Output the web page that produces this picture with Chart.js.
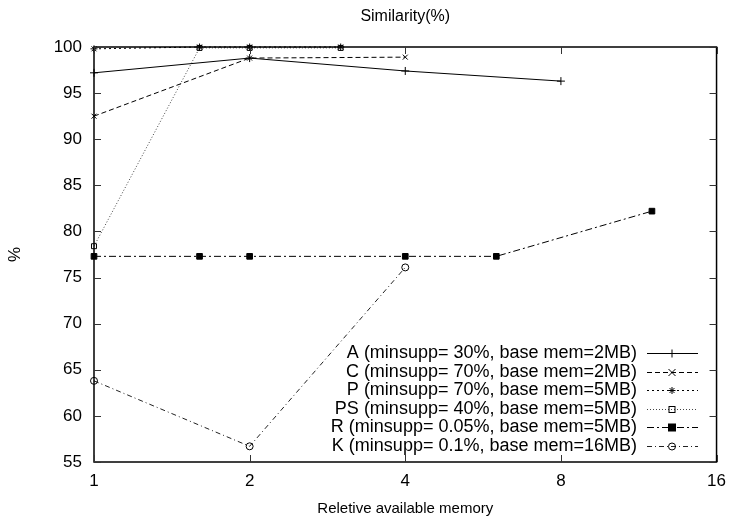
<!DOCTYPE html>
<html><head><meta charset="utf-8">
<script src="https://cdn.jsdelivr.net/npm/chart.js@4/dist/chart.umd.min.js"></script>
<style>html,body{margin:0;padding:0;background:#fff}</style>
</head><body>
<canvas id="c" width="735" height="519"></canvas>
<script>
// ---- data ----
const xTicks = [1, 2, 4, 8, 16];
const yTicks = [55, 60, 65, 70, 75, 80, 85, 90, 95, 100];
const seriesNames = [
  "A (minsupp= 30%, base mem=2MB)",
  "C (minsupp= 70%, base mem=2MB)",
  "P (minsupp= 70%, base mem=5MB)",
  "PS (minsupp= 40%, base mem=5MB)",
  "R (minsupp= 0.05%, base mem=5MB)",
  "K (minsupp= 0.1%, base mem=16MB)"
];
const A_x = [1, 2, 4, 8];
const A_y = [97.2, 98.8, 97.4, 96.3];
const C_x = [1, 2, 4];
const C_y = [92.5, 98.8, 98.9];
const P_x = [1, 1.6, 2, 3];
const P_y = [99.8, 100, 100, 100];
const PS_x = [1, 1.6, 2, 3];
const PS_y = [78.4, 99.9, 99.9, 99.9];
const R_x = [1, 1.6, 2, 4, 6, 12];
const R_y = [77.3, 77.3, 77.3, 77.3, 77.3, 82.2];
const K_x = [1, 2, 4];
const K_y = [63.8, 56.7, 76.1];
const titleText = "Similarity(%)";
const xTitle = "Reletive available memory";
const yTitle = "%";

const FONT = "'Liberation Sans', Arial, Helvetica, sans-serif";
const pts = (xs, ys) => xs.map((x, i) => ({x: x, y: ys[i]}));

const styles = [
  {dash: [], color: '#000', point: 'cross', fill: false, r: 4},
  {dash: [5, 3], color: '#000', point: 'crossRot', fill: false, r: 3.5},
  {dash: [2, 3], color: '#000', point: 'star', fill: false, r: 3.5},
  {dash: [1, 2], color: '#444', point: 'rect', fill: false, r: 3.5},
  {dash: [7, 3, 2, 3], color: '#000', point: 'rect', fill: true, r: 4},
  {dash: [5, 3, 1, 3], color: '#222', point: 'circle', fill: false, r: 3.5}
];
const seriesData = [pts(A_x, A_y), pts(C_x, C_y), pts(P_x, P_y), pts(PS_x, PS_y), pts(R_x, R_y), pts(K_x, K_y)];

const datasets = seriesData.map((d, i) => ({
  label: seriesNames[i],
  data: d,
  borderColor: styles[i].color,
  borderWidth: 1,
  borderDash: styles[i].dash,
  pointStyle: styles[i].point,
  pointRadius: styles[i].r,
  pointBorderWidth: 1,
  pointBorderColor: '#000',
  pointBackgroundColor: styles[i].fill ? '#000' : 'rgba(0,0,0,0)',
  tension: 0,
  fill: false,
  clip: false
}));

function drawMarker(ctx, style, x, y, r, fill) {
  ctx.save();
  ctx.setLineDash([]);
  ctx.lineWidth = 1;
  ctx.strokeStyle = '#000';
  ctx.fillStyle = '#000';
  ctx.beginPath();
  if (style === 'cross') {
    ctx.moveTo(x - r, y); ctx.lineTo(x + r, y); ctx.moveTo(x, y - r); ctx.lineTo(x, y + r); ctx.stroke();
  } else if (style === 'crossRot') {
    ctx.moveTo(x - r, y - r); ctx.lineTo(x + r, y + r); ctx.moveTo(x - r, y + r); ctx.lineTo(x + r, y - r); ctx.stroke();
  } else if (style === 'star') {
    ctx.moveTo(x - r, y); ctx.lineTo(x + r, y); ctx.moveTo(x, y - r); ctx.lineTo(x, y + r);
    ctx.moveTo(x - r * .7, y - r * .7); ctx.lineTo(x + r * .7, y + r * .7); ctx.moveTo(x - r * .7, y + r * .7); ctx.lineTo(x + r * .7, y - r * .7); ctx.stroke();
  } else if (style === 'rect') {
    if (fill) ctx.fillRect(x - r, y - r, 2 * r, 2 * r); else ctx.strokeRect(x - r + .5, y - r + .5, 2 * r - 1, 2 * r - 1);
  } else if (style === 'circle') {
    ctx.arc(x, y, r, 0, Math.PI * 2); ctx.stroke();
  }
  ctx.restore();
}

const framePlugin = {
  id: 'frame',
  afterDatasetsDraw(chart) {
    const ctx = chart.ctx;
    const a = chart.chartArea;
    const xs = chart.scales.x, ys = chart.scales.y;
    ctx.save();
    ctx.strokeStyle = '#000';
    ctx.lineWidth = 1.5;
    ctx.setLineDash([]);
    ctx.strokeRect(a.left, a.top, a.right - a.left, a.bottom - a.top);
    ctx.lineWidth = 1;
    ctx.strokeStyle = '#333';
    const tl = 7;
    ctx.beginPath();
    xTicks.forEach(v => {
      const px = Math.round(xs.getPixelForValue(v)) + 0.5;
      ctx.moveTo(px, a.bottom); ctx.lineTo(px, a.bottom - tl);
      ctx.moveTo(px, a.top); ctx.lineTo(px, a.top + tl);
    });
    yTicks.forEach(v => {
      const py = Math.round(ys.getPixelForValue(v)) + 0.5;
      ctx.moveTo(a.left, py); ctx.lineTo(a.left + tl, py);
      ctx.moveTo(a.right, py); ctx.lineTo(a.right - tl, py);
    });
    ctx.stroke();
    // title
    ctx.fillStyle = '#000';
    ctx.font = '16px ' + FONT;
    ctx.textAlign = 'center';
    ctx.textBaseline = 'middle';
    ctx.fillText(titleText, (a.left + a.right) / 2, 17);
    // legend
    ctx.font = '18px ' + FONT;
    ctx.textAlign = 'right';
    const rowY0 = 353, rowH = 18.6;
    seriesNames.forEach((name, i) => {
      const y = rowY0 + i * rowH;
      ctx.fillStyle = '#000';
      ctx.fillText(name, 637, y);
      ctx.save();
      ctx.strokeStyle = styles[i].color;
      ctx.lineWidth = 1;
      ctx.setLineDash(styles[i].dash);
      ctx.beginPath();
      ctx.moveTo(647, Math.round(y) + 0.5); ctx.lineTo(698, Math.round(y) + 0.5);
      ctx.stroke();
      ctx.restore();
      drawMarker(ctx, styles[i].point, 672, Math.round(y) + 0.5, styles[i].r, styles[i].fill);
    });
    ctx.restore();
  }
};

new Chart(document.getElementById('c'), {
  type: 'line',
  data: {datasets: datasets},
  plugins: [framePlugin],
  options: {
    responsive: false,
    animation: false,
    devicePixelRatio: 1,
    layout: {padding: {top: 47, right: 15, bottom: 0, left: 0}},
    plugins: {legend: {display: false}, title: {display: false}, tooltip: {enabled: false}},
    scales: {
      x: {
        type: 'logarithmic',
        min: 1, max: 16,
        afterBuildTicks: s => { s.ticks = xTicks.map(v => ({value: v})); },
        afterFit: s => { s.height = 57; },
        grid: {display: false, drawTicks: false},
        border: {display: false},
        ticks: {color: '#000', font: {family: FONT, size: 17}, padding: 9, maxRotation: 0, autoSkip: false, callback: v => String(v)},
        title: {display: true, text: xTitle, color: '#000', font: {family: FONT, size: 15}, padding: {top: 0, bottom: 1}}
      },
      y: {
        min: 55, max: 100,
        afterBuildTicks: s => { s.ticks = yTicks.map(v => ({value: v})); },
        afterFit: s => { s.width = 94; },
        grid: {display: false, drawTicks: false},
        border: {display: false},
        ticks: {color: '#000', font: {family: FONT, size: 17}, padding: 12, callback: v => String(v)},
        title: {display: true, text: yTitle, color: '#000', font: {family: FONT, size: 17}, padding: {top: 5, bottom: 0}}
      }
    }
  }
});
</script>
</body></html>
